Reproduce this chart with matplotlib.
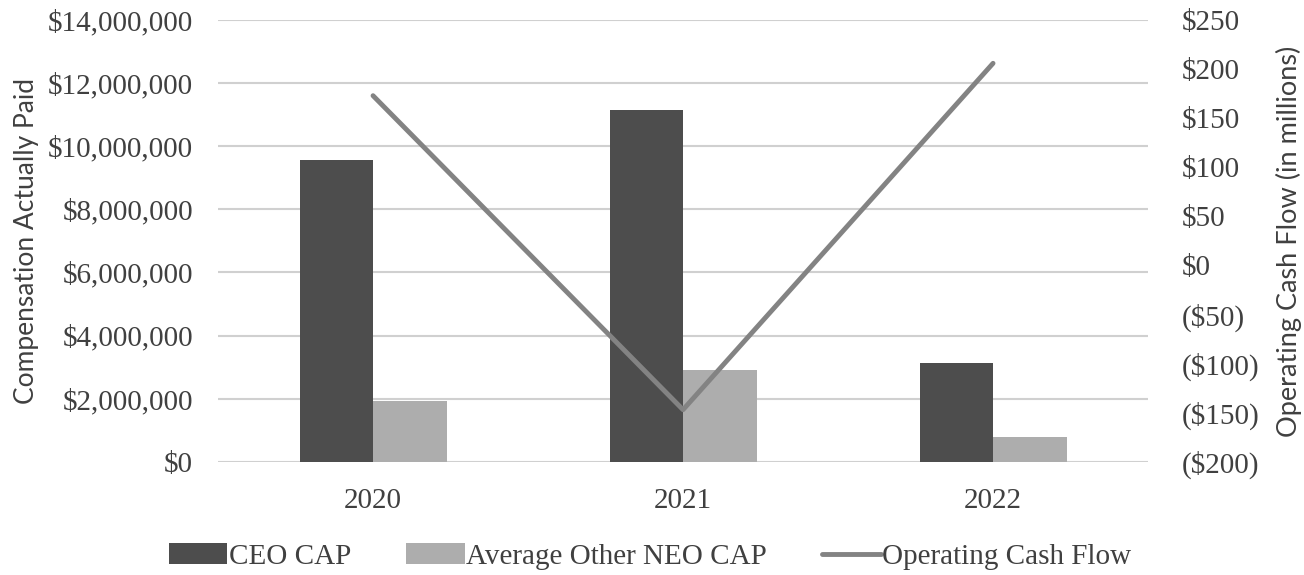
import matplotlib.pyplot as plt
import numpy as np
from matplotlib.ticker import FuncFormatter

# data
years = ['2020', '2021', '2022']
ceo_cap = [9550000, 11160000, 3140000]
neo_cap = [1920000, 2920000, 780000]
op_cash = [173, -147, 206]   # $ millions

serif = 'Liberation Serif'
sans = 'Lato'
txt = '#404040'

fig = plt.figure(figsize=(13.04, 5.75), dpi=100)
ax = fig.add_axes([0.1672, 0.197, 0.7132, 0.768])

x = np.arange(len(years))
w = 0.237
ax.bar(x - w / 2, ceo_cap, w, color='#4d4d4d', label='CEO CAP', zorder=2)
ax.bar(x + w / 2, neo_cap, w, color='#adadad', label='Average Other NEO CAP', zorder=2)

ax.set_xlim(-0.5, 2.5)
ax.set_ylim(0, 14000000)
ax.set_yticks(np.arange(0, 14000001, 2000000))
ax.yaxis.set_major_formatter(FuncFormatter(lambda v, p: '${:,.0f}'.format(v)))
ax.set_xticks(x)
ax.set_xticklabels(years)
ax.grid(axis='y', color='#d0d0d0', linewidth=1.5, zorder=0)
ax.set_axisbelow(True)
for s in ['top', 'right', 'left', 'bottom']:
    ax.spines[s].set_visible(False)
ax.tick_params(axis='both', length=0, labelsize=21, labelcolor=txt)
ax.tick_params(axis='y', pad=18)
ax.tick_params(axis='x', pad=19)
for lb in ax.get_xticklabels() + ax.get_yticklabels():
    lb.set_fontfamily(serif)
ax.set_ylabel('Compensation Actually Paid', fontsize=19, family=sans, color=txt, labelpad=6)

ax2 = ax.twinx()
ax2.plot(x, op_cash, color='#838383', linewidth=3.5, solid_capstyle='round',
         label='Operating Cash Flow', zorder=3)
ax2.set_ylim(-200, 250)
ax2.set_yticks(np.arange(-200, 251, 50))


def money(v, p):
    if v < 0:
        return '(${:,.0f})'.format(-v)
    return '${:,.0f}'.format(v)


ax2.yaxis.set_major_formatter(FuncFormatter(money))
for s in ['top', 'right', 'left', 'bottom']:
    ax2.spines[s].set_visible(False)
ax2.tick_params(axis='y', length=0, labelsize=21, labelcolor=txt, pad=24)
for lb in ax2.get_yticklabels():
    lb.set_fontfamily(serif)
ax2.set_ylabel('Operating Cash Flow (in millions)', fontsize=19.5, family=sans, color=txt, labelpad=12)

h1, l1 = ax.get_legend_handles_labels()
h2, l2 = ax2.get_legend_handles_labels()
fig.legend(h1 + h2, l1 + l2, loc='center', bbox_to_anchor=(0.4985, 0.032), ncol=3,
           frameon=False, handlelength=2.0, handletextpad=0.05, columnspacing=1.9,
           prop={'family': serif, 'size': 21}, labelcolor=txt)

fig.savefig('out.png', dpi=100)
